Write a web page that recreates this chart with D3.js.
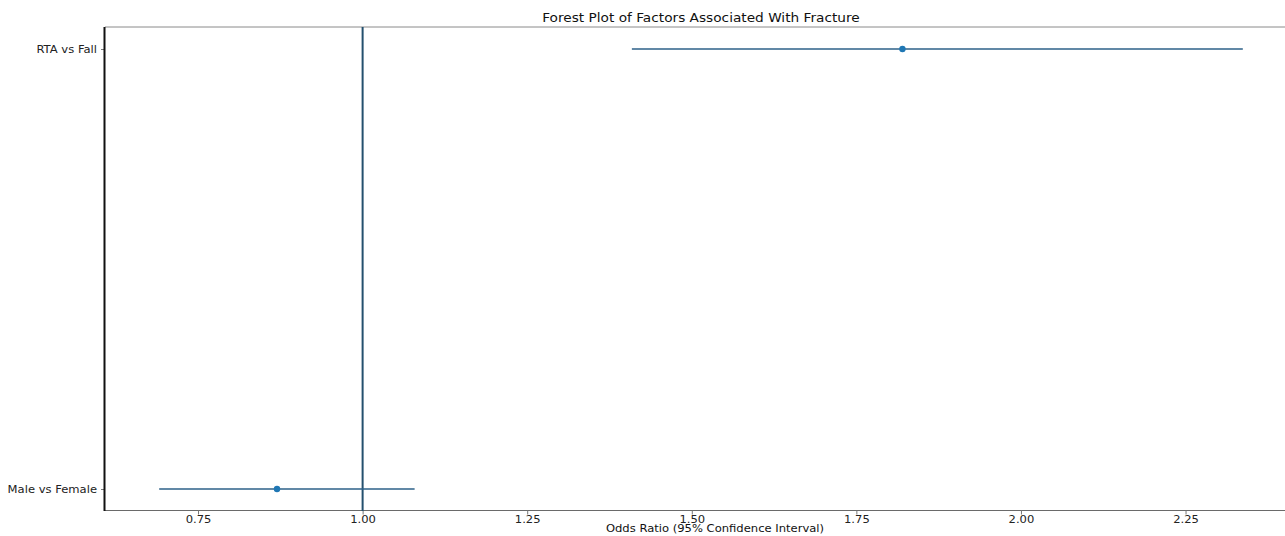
<!DOCTYPE html>
<html>
<head>
<meta charset="utf-8">
<script src="https://cdn.jsdelivr.net/npm/d3@7"></script>
<style>
  body { margin: 0; background: #fff; }
  svg { display: block; font-family: "DejaVu Sans", sans-serif; }
</style>
</head>
<body>
<div id="chart"></div>
<script>
// data
const factors = ["Male vs Female", "RTA vs Fall"];
const oddsRatios = [0.87, 1.82];
const ciLower = [0.691, 1.409];
const ciUpper = [1.079, 2.337];
const xTicks = [0.75, 1.0, 1.25, 1.5, 1.75, 2.0, 2.25];

const width = 1285;
const height = 536;
const plotLeft = 105, plotRight = 1297, plotTop = 27, plotBottom = 511;
const stretchX = 1.18; // the source image is a bit wider than tall

const svg = d3.select("#chart")
  .append("svg")
  .attr("width", width)
  .attr("height", height);

// widen text horizontally to match the stretched original
const stretch = (sel, f) => sel.each(function () {
  const w = this.getComputedTextLength();
  d3.select(this).attr("textLength", w * f).attr("lengthAdjust", "spacingAndGlyphs");
});

// matplotlib-like 5% margins around the data
const lo = d3.min(ciLower), hi = d3.max(ciUpper);
const pad = (hi - lo) * 0.05;
const x = d3.scaleLinear().domain([lo - pad, hi + pad]).range([plotLeft, plotRight]);
const y = d3.scalePoint().domain(factors).range([plotBottom, plotTop]).padding(0.05);

// spines
svg.append("line").attr("x1", plotLeft).attr("x2", plotRight).attr("y1", plotTop).attr("y2", plotTop)
  .attr("stroke", "#8a8a8a").attr("stroke-width", 1);
svg.append("line").attr("x1", plotLeft).attr("x2", plotRight).attr("y1", plotBottom - 0.5).attr("y2", plotBottom - 0.5)
  .attr("stroke", "#6a6a6a").attr("stroke-width", 1);

// x axis
const xAxis = svg.append("g")
  .attr("transform", `translate(0,${plotBottom - 0.5})`)
  .call(d3.axisBottom(x).tickValues(xTicks).tickFormat(d3.format(".2f")).tickSize(4).tickPadding(2));
xAxis.select(".domain").remove();
xAxis.selectAll("line").attr("stroke", "#777");
xAxis.selectAll("text").attr("font-size", "9.8px").attr("fill", "#222").attr("font-family", "DejaVu Sans")
  .call(stretch, stretchX);

// y axis
const yAxis = svg.append("g")
  .attr("transform", `translate(${plotLeft},0)`)
  .call(d3.axisLeft(y).tickSize(4).tickPadding(4));
yAxis.select(".domain").remove();
yAxis.selectAll("line").attr("stroke", "#777");
yAxis.selectAll("text").attr("font-size", "9.8px").attr("fill", "#222").attr("font-family", "DejaVu Sans")
  .call(stretch, stretchX);

svg.append("line").attr("x1", plotLeft - 0.5).attr("x2", plotLeft - 0.5).attr("y1", plotTop).attr("y2", plotBottom)
  .attr("stroke", "#111").attr("stroke-width", 2);

// reference line at OR = 1
svg.append("line")
  .attr("x1", x(1)).attr("x2", x(1))
  .attr("y1", plotTop).attr("y2", plotBottom)
  .attr("stroke", "#24506e").attr("stroke-width", 2);

// confidence intervals
const rows = factors.map((f, i) => ({ f, or: oddsRatios[i], lo: ciLower[i], hi: ciUpper[i] }));

svg.selectAll(".ci")
  .data(rows)
  .enter()
  .append("line")
  .attr("x1", (d) => x(d.lo))
  .attr("x2", (d) => x(d.hi))
  .attr("y1", (d) => y(d.f))
  .attr("y2", (d) => y(d.f))
  .attr("stroke", "#2d6188")
  .attr("stroke-width", 1.6);

svg.selectAll(".pt")
  .data(rows)
  .enter()
  .append("circle")
  .attr("cx", (d) => x(d.or))
  .attr("cy", (d) => y(d.f))
  .attr("r", 3.2)
  .attr("fill", "#1f77b4");

// title and label
svg.append("text")
  .attr("x", (plotLeft + plotRight) / 2)
  .attr("y", 22)
  .attr("text-anchor", "middle")
  .attr("font-size", "11.8px")
  .attr("fill", "#111")
  .text("Forest Plot of Factors Associated With Fracture")
  .call(stretch, 1.16);

svg.append("text")
  .attr("x", (plotLeft + plotRight) / 2 + 14)
  .attr("y", 532)
  .attr("text-anchor", "middle")
  .attr("font-size", "9.8px")
  .attr("fill", "#111")
  .text("Odds Ratio (95% Confidence Interval)")
  .call(stretch, stretchX);
</script>
</body>
</html>
